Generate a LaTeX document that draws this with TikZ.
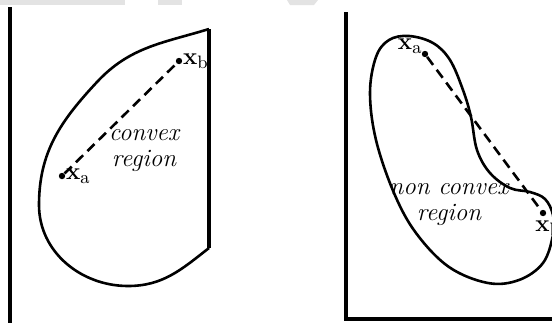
\documentclass[tikz,border=0pt]{standalone}
\usepackage{amsmath}
\begin{document}
\begin{tikzpicture}[x=0.5pt, y=-0.5pt, font=\fontsize{12.5}{15}\selectfont]
        \tikzset{wall/.style={line width=1.6pt},
                 outline/.style={line width=1.3pt, smooth},
                 chord/.style={line width=1.3pt, dash pattern=on 5pt off 3pt},
                 pt/.style={circle, fill, inner sep=0pt, minimum size=3.2pt},
                 lbl/.style={inner sep=0pt}}
        \useasboundingbox (0,0) rectangle (552,323);

        \fill[gray!22] (0,0) rectangle (125,4.5);
        \fill[gray!22] (158,0) rectangle (182,4.5);
        \fill[gray!22] (287,0) -- (318,0) -- (314,5) -- (290,5) -- cycle;

        % convex
        \draw[wall] (10,7) -- (10,323);
        \draw[wall] (209,29) -- (209,248);
        \draw[outline] (209,29) to[out=197, in=47] (97,82) to[out=227, in=90] (39,205)
            to[out=270, in=180] (128,286) to[out=0, in=218] (209,248);
        \node[pt] (xa) at (62,176) {};
        \node[pt] (xb) at (179,61) {};
        \node[lbl, anchor=west] (xalbl) at (xa.east) {$\mathbf{x}_{\mathrm{a}}$};
        \node[lbl, anchor=west] (xblbl) at (xb.east) {$\mathbf{x}_{\mathrm{b}}$};
        \draw[chord] (xa) -- (xb);
        \node[align=center, font=\fontsize{12.5}{15}\selectfont\itshape] (cvx) at (144,151) {convex\\[-2pt]region};

        % non convex
        \draw[wall] (346,12) -- (346,319) -- (553,319);
        \draw[outline] plot[smooth cycle, tension=0.6] coordinates {(409,36) (433,43) (450,60) (463,90) (471,117) (477,150) (490,173) (510,188) (530,192) (545,199) (553,215) (553,235) (543,263) (519,280) (488,283) (449,267) (416,233) (394,193) (376,140) (370,93) (376,57) (389,40)};
        \node[pt] (ya) at (425,54) {};
        \node[pt] (yb) at (543,213) {};
        \node[lbl] (yalbl) at (410,46) {$\mathbf{x}_{\mathrm{a}}$};
        \node[lbl, anchor=north west] (yblbl) at (535,220) {$\mathbf{x}_{\mathrm{b}}$};
        \draw[chord] (ya) -- (yb);
        \node[align=center, font=\fontsize{12.5}{15}\selectfont\itshape] (ncvx) at (449,205) {non convex\\[-2pt]region};
    \end{tikzpicture}
\end{document}
